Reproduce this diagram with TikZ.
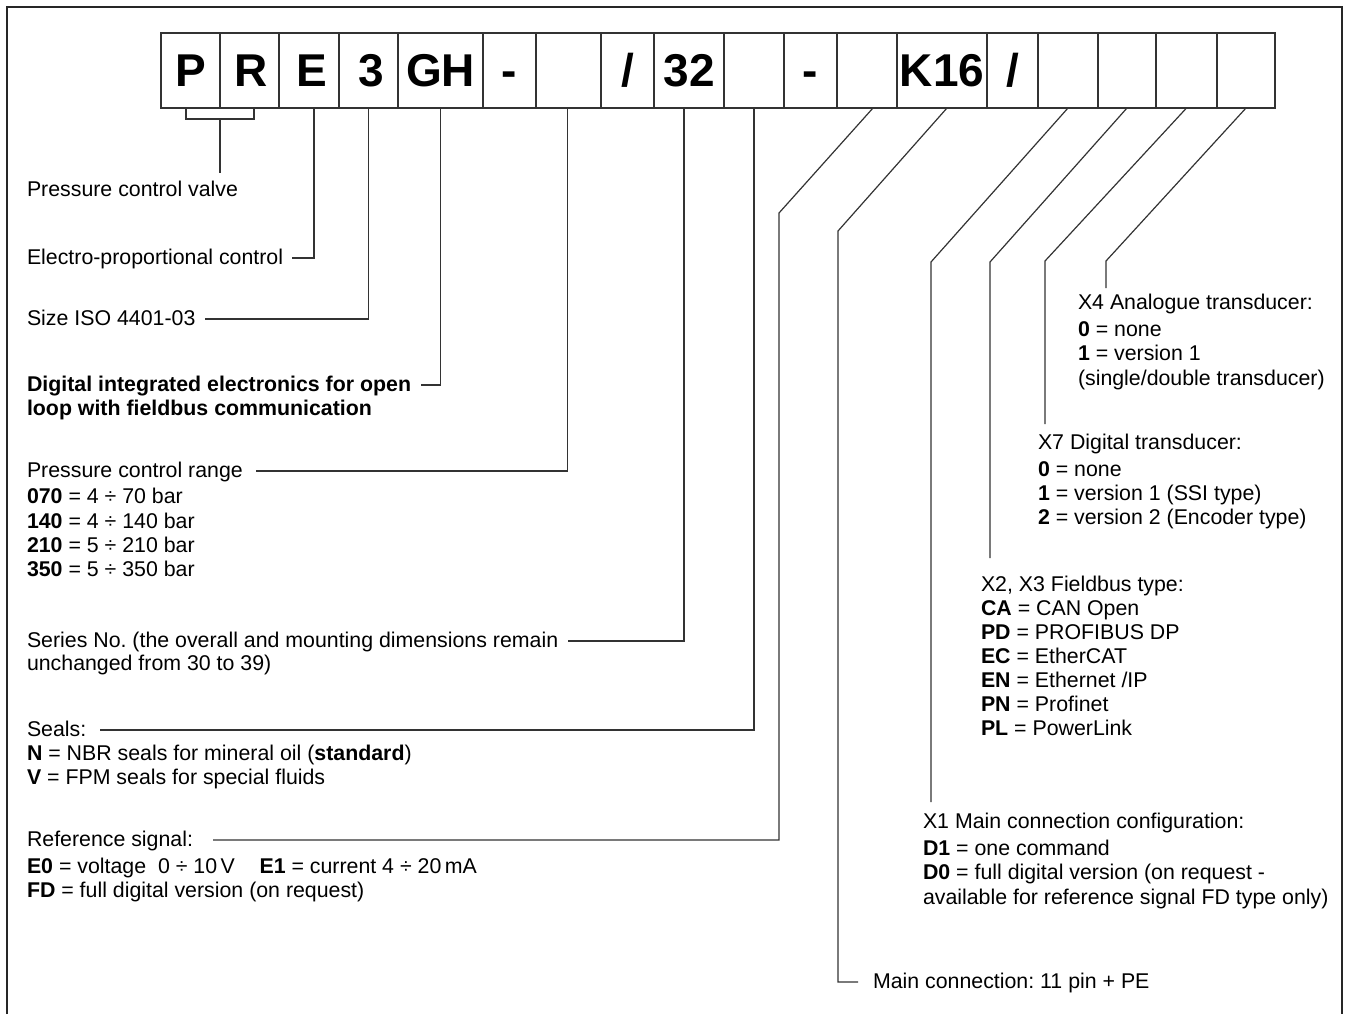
\documentclass[tikz,border=0pt]{standalone}
\usepackage{fontspec}
\setmainfont{Liberation Sans}
\usetikzlibrary{calc}
\frenchspacing
\begin{document}
\begin{tikzpicture}[x=0.75pt,y=-0.75pt,
  ln/.style={draw=black!80,line width=0.9pt},
  box/.style={draw=black!80,line width=0.9pt,minimum height=56.25pt,inner sep=0pt,outer sep=0pt,
    font=\fontsize{34.5}{40}\selectfont\bfseries,text height=24.7pt,text depth=0pt},
  lab/.style={anchor=west,inner sep=0pt,outer sep=0pt,font=\fontsize{16}{19}\selectfont,
    text height=13.8pt,text depth=3.4pt},
  labb/.style={lab,font=\fontsize{16}{19}\selectfont\bfseries}]
\useasboundingbox (0,0) rectangle (1348,1014);
% frame
\draw[draw=black!85,line width=1pt] (7,1014) -- (7,7) -- (1342,7) -- (1342,1014);
% code boxes
\node[box,minimum width=44.25pt] (b1) at (190.5,70.5) {P};
\node[box,minimum width=44.25pt] (b2) at (249.5,70.5) {\hspace{3pt}R};
\node[box,minimum width=45pt] (b3) at (309,70.5) {\hspace{5pt}E};
\node[box,minimum width=44.25pt] (b4) at (368.5,70.5) {\hspace{4pt}3};
\node[box,minimum width=63.75pt] (b5) at (440.5,70.5) {GH};
\node[box,minimum width=39.75pt] (b6) at (509.5,70.5) {-};
\node[box,minimum width=48.75pt] (b7) at (568.5,70.5) {};
\node[box,minimum width=39.75pt] (b8) at (627.5,70.5) {/};
\node[box,minimum width=52.5pt] (b9) at (689,70.5) {32};
\node[box,minimum width=45pt] (b10) at (754,70.5) {};
\node[box,minimum width=39.75pt] (b11) at (810.5,70.5) {-};
\node[box,minimum width=45pt] (b12) at (867,70.5) {};
\node[box,minimum width=67.5pt] (b13) at (942,70.5) {K16};
\node[box,minimum width=38.25pt] (b14) at (1012.5,70.5) {/};
\node[box,minimum width=45pt] (b15) at (1068,70.5) {};
\node[box,minimum width=43.5pt] (b16) at (1127,70.5) {};
\node[box,minimum width=45.75pt] (b17) at (1186.5,70.5) {};
\node[box,minimum width=43.5pt] (b18) at (1246,70.5) {};

% left labels
\node[lab] (pcv) at (27,190) {Pressure control valve};
\node[lab] (epc) at (27,258) {Electro-proportional control};
\node[lab] (siz) at (27,319) {Size ISO 4401-03};
\node[labb] (die1) at (27,385) {Digital integrated electronics for open};
\node[labb] (die2) at (27,409) {loop with fieldbus communication};
\node[lab] (pcr) at (27,471) {Pressure control range};
\node[lab] (r070) at (27,497) {\textbf{070} = 4 ÷ 70 bar};
\node[lab] (r140) at (27,522) {\textbf{140} = 4 ÷ 140 bar};
\node[lab] (r210) at (27,546) {\textbf{210} = 5 ÷ 210 bar};
\node[lab] (r350) at (27,570) {\textbf{350} = 5 ÷ 350 bar};
\node[lab] (ser1) at (27,641) {Series No. (the overall and mounting dimensions remain};
\node[lab] (ser2) at (27,664) {unchanged from 30 to 39)};
\node[lab] (sea) at (27,730) {Seals:};
\node[lab] (sN) at (27,754) {\textbf{N} = NBR seals for mineral oil (\textbf{standard})};
\node[lab] (sV) at (27,778) {\textbf{V} = FPM seals for special fluids};
\node[lab] (ref) at (27,840) {Reference signal:};
\node[lab] (rE) at (27,867) {\textbf{E0} = voltage\ \ 0 ÷ 10\,V\hspace{1.15em}\textbf{E1} = current 4 ÷ 20\,mA};
\node[lab] (rF) at (27,891) {\textbf{FD} = full digital version (on request)};

% right labels
\node[lab] (mc) at (873,982) {Main connection: 11 pin + PE};
\node[lab] (x1h) at (923,822) {X1 Main connection configuration:};
\node[lab] (x1a) at (923,849) {\textbf{D1} = one command};
\node[lab] (x1b) at (923,873) {\textbf{D0} = full digital version (on request -};
\node[lab] (x1c) at (923,898) {available for reference signal FD type only)};
\node[lab] (x2h) at (981,585) {X2, X3 Fieldbus type:};
\node[lab] (x2a) at (981,609) {\textbf{CA} = CAN Open};
\node[lab] (x2b) at (981,633) {\textbf{PD} = PROFIBUS DP};
\node[lab] (x2c) at (981,657) {\textbf{EC} = EtherCAT};
\node[lab] (x2d) at (981,681) {\textbf{EN} = Ethernet /IP};
\node[lab] (x2e) at (981,705) {\textbf{PN} = Profinet};
\node[lab] (x2f) at (981,729) {\textbf{PL} = PowerLink};
\node[lab] (x7h) at (1038,443) {X7 Digital transducer:};
\node[lab] (x7a) at (1038,470) {\textbf{0} = none};
\node[lab] (x7b) at (1038,494) {\textbf{1} = version 1 (SSI type)};
\node[lab] (x7c) at (1038,518) {\textbf{2} = version 2 (Encoder type)};
\node[lab] (x4h) at (1078,303) {X4 Analogue transducer:};
\node[lab] (x4a) at (1078,330) {\textbf{0} = none};
\node[lab] (x4b) at (1078,354) {\textbf{1} = version 1};
\node[lab] (x4c) at (1078,379) {(single/double transducer)};

% bend and end points
\coordinate (kRef) at (779,213);
\coordinate (kMain) at (838,231);
\coordinate (kX1) at (931,262);
\coordinate (eX1) at (931,802);
\coordinate (kX2) at (990,262);
\coordinate (eX2) at (990,558);
\coordinate (kX7) at (1045,261);
\coordinate (eX7) at (1045,424);
\coordinate (kX4) at (1106,261);
\coordinate (eX4) at (1106,288);

% connectors
\draw[ln] ([xshift=-3.4pt]b1.south) -- ++(0,11) -| ([xshift=3.4pt]b2.south);
\draw[ln] ([yshift=-8.25pt]b1.south east) -- ++(0,54);
\draw[ln] ([xshift=3.75pt]b3.south) |- ([xshift=7pt]epc.east);
\draw[ln] (b4.south) |- ([xshift=7.5pt]siz.east);
\draw[ln] (b5.south) |- ([xshift=7.5pt]die1.east);
\draw[ln] ([xshift=-1pt]b7.south) |- ([xshift=10pt]pcr.east);
\draw[ln] ([xshift=-3.75pt]b9.south) |- ([xshift=7.5pt]ser1.east);
\draw[ln] (b10.south) |- ([xshift=10.5pt]sea.east);
\draw[ln] ([xshift=4.5pt]b12.south) -- (kRef) |- ([xshift=15pt]ref.east);
\draw[ln] ([xshift=3.75pt]b13.south) -- (kMain) |- ([xshift=-11.25pt]mc.west);
\draw[ln] (b15.south) -- (kX1) -- (eX1);
\draw[ln] (b16.south) -- (kX2) -- (eX2);
\draw[ln] (b17.south) -- (kX7) -- (eX7);
\draw[ln] (b18.south) -- (kX4) -- (eX4);
\end{tikzpicture}
\end{document}
